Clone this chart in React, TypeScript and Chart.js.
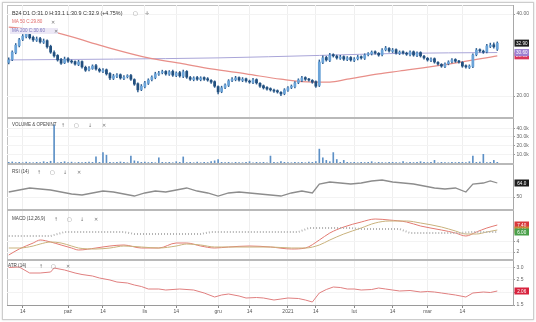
import React, { useEffect, useRef } from "react";
import { Chart, registerables } from "chart.js";

Chart.register(...registerables);

const FONT = "'Liberation Sans', Arial, sans-serif";

// ---- x axis (trading-day index) ----
const TICK_IDX = [4, 17, 27, 39, 48, 60, 69, 80, 88, 99, 110, 120, 130];
const TICK_LABELS = ["14", "paź", "14", "lis", "14", "gru", "14", "2021", "14", "lut", "14", "mar", "14"];

// ---- price candles ----
const OPEN = [
  28.2, 28.9, 30.6, 32.3, 33.8, 34.5, 35.0, 34.3, 33.6, 34.0,
  33.1, 33.5, 32.1, 30.6, 29.9, 28.9, 28.1, 29.1, 28.4, 28.4,
  27.7, 28.4, 27.0, 26.4, 26.7, 27.4, 26.5, 26.0, 26.4, 25.5,
  24.3, 24.8, 25.2, 24.3, 24.7, 25.0, 24.0, 23.0, 21.6, 22.3,
  23.1, 24.0, 24.5, 25.3, 25.7, 26.0, 25.3, 26.0, 25.0, 25.7,
  24.8, 26.0, 24.5, 24.0, 24.5, 24.0, 24.5, 24.2, 23.8, 23.5,
  22.3, 21.1, 22.1, 22.6, 23.8, 24.0, 24.5, 23.8, 24.2, 23.6,
  23.3, 24.0, 23.1, 22.5, 22.1, 21.8, 21.4, 21.3, 20.9, 20.6,
  21.4, 22.1, 22.3, 23.3, 23.8, 24.5, 24.0, 23.8, 23.5, 22.6,
  28.2, 29.4, 28.7, 30.1, 29.7, 29.2, 29.6, 28.9, 29.4, 28.7,
  29.1, 29.6, 29.2, 30.1, 30.3, 30.8, 30.4, 30.1, 31.3, 31.6,
  30.9, 31.3, 30.4, 30.8, 30.4, 30.1, 30.8, 29.9, 30.6, 29.7,
  29.2, 28.7, 29.1, 28.2, 27.7, 27.2, 27.9, 28.4, 28.9, 28.4,
  28.2, 27.4, 27.0, 27.2, 30.1, 31.3, 30.9, 30.8, 32.1, 32.5,
  31.4,
];
const HIGH = [
  29.3, 31.0, 32.8, 34.1, 35.0, 35.6, 35.3, 34.6, 34.4, 34.3,
  33.9, 33.7, 32.4, 31.0, 30.1, 29.2, 29.5, 29.4, 28.8, 28.6,
  28.7, 28.6, 27.3, 27.2, 27.6, 27.7, 26.8, 26.7, 26.6, 25.7,
  25.3, 25.5, 25.4, 25.0, 25.2, 25.3, 24.2, 23.2, 22.8, 23.6,
  24.2, 24.9, 25.8, 26.0, 26.3, 26.2, 26.2, 26.3, 25.9, 26.0,
  26.3, 26.2, 24.8, 24.7, 24.8, 24.7, 24.7, 24.5, 24.0, 23.7,
  22.5, 22.4, 23.0, 24.0, 24.5, 24.8, 24.7, 24.5, 24.4, 23.9,
  24.3, 24.2, 23.3, 22.7, 22.3, 22.0, 21.7, 21.5, 21.1, 21.8,
  22.3, 22.7, 23.5, 24.2, 24.8, 24.7, 24.3, 24.0, 23.7, 28.8,
  29.8, 29.7, 30.4, 30.3, 30.0, 29.9, 29.8, 29.6, 29.6, 29.4,
  29.9, 29.8, 30.3, 30.6, 31.0, 31.0, 30.6, 31.6, 32.1, 31.8,
  31.6, 31.5, 31.0, 31.0, 30.7, 31.0, 31.0, 30.8, 30.8, 29.9,
  29.4, 29.3, 29.3, 28.4, 27.9, 28.1, 28.6, 29.1, 29.1, 28.7,
  28.4, 27.6, 27.6, 30.3, 31.6, 31.5, 31.2, 32.6, 32.9, 33.0,
  33.2,
];
const LOW = [
  27.8, 28.6, 30.3, 32.0, 33.5, 34.2, 33.9, 33.3, 33.3, 32.9,
  32.8, 31.7, 30.4, 29.5, 28.5, 27.7, 27.9, 28.2, 28.0, 27.5,
  27.4, 26.8, 26.0, 26.1, 26.5, 26.3, 25.8, 25.7, 25.1, 24.0,
  24.0, 24.5, 24.1, 24.0, 24.4, 23.8, 22.6, 21.0, 21.3, 22.0,
  22.8, 23.7, 24.2, 25.0, 25.4, 25.1, 25.0, 24.8, 24.7, 24.6,
  24.5, 24.3, 23.8, 23.7, 23.8, 23.7, 23.8, 23.6, 23.1, 22.1,
  20.5, 20.8, 21.8, 22.3, 23.5, 23.7, 23.6, 23.5, 23.4, 23.1,
  23.0, 22.9, 22.1, 21.7, 21.4, 21.2, 20.9, 20.7, 20.1, 20.3,
  21.1, 21.8, 22.0, 23.0, 23.5, 23.8, 23.6, 23.1, 22.1, 22.3,
  27.9, 28.5, 28.4, 29.5, 29.0, 28.9, 28.7, 28.6, 28.5, 28.4,
  28.8, 29.0, 28.9, 29.8, 30.0, 30.2, 29.7, 29.8, 31.0, 30.7,
  30.6, 30.2, 30.1, 30.2, 29.9, 29.8, 29.7, 29.6, 29.5, 29.0,
  28.5, 28.4, 28.0, 27.5, 27.0, 26.9, 27.6, 28.1, 28.2, 28.0,
  27.0, 26.8, 26.7, 26.9, 29.8, 30.7, 30.4, 30.5, 31.8, 31.7,
  31.1,
];
const CLOSE = [
  28.8, 30.7, 32.4, 33.7, 34.6, 35.1, 34.2, 33.7, 33.9, 33.2,
  33.4, 32.0, 30.7, 29.8, 28.8, 28.0, 29.0, 28.5, 28.3, 27.8,
  28.3, 27.1, 26.3, 26.8, 27.3, 26.6, 26.1, 26.3, 25.4, 24.4,
  24.9, 25.1, 24.4, 24.6, 24.9, 24.1, 22.9, 21.5, 22.4, 23.2,
  23.9, 24.6, 25.4, 25.6, 25.9, 25.4, 25.9, 25.1, 25.6, 24.9,
  25.9, 24.6, 24.1, 24.4, 24.1, 24.4, 24.1, 23.9, 23.4, 22.4,
  21.0, 22.0, 22.7, 23.7, 24.1, 24.4, 23.9, 24.1, 23.7, 23.4,
  23.9, 23.2, 22.4, 22.0, 21.7, 21.5, 21.2, 21.0, 20.5, 21.5,
  22.0, 22.4, 23.2, 23.9, 24.4, 24.1, 23.9, 23.4, 22.4, 28.3,
  29.3, 28.8, 30.0, 29.8, 29.3, 29.5, 29.0, 29.3, 28.8, 29.0,
  29.5, 29.3, 30.0, 30.2, 30.7, 30.5, 30.0, 31.2, 31.7, 31.0,
  31.2, 30.5, 30.7, 30.5, 30.2, 30.7, 30.0, 30.5, 29.8, 29.3,
  28.8, 29.0, 28.3, 27.8, 27.3, 27.8, 28.3, 28.8, 28.5, 28.3,
  27.3, 27.1, 27.3, 30.0, 31.2, 31.0, 30.7, 32.2, 32.4, 32.0,
  32.9,
];

// ---- moving averages (sparse points: bar index / value) ----
const MA_FAST_IDX = [0, 13, 26, 40, 49, 58, 68, 78, 87, 92, 97, 106, 112, 126, 140];
const MA_FAST = [36.8, 35.6, 32.4, 29.3, 28.0, 26.6, 25.4, 24.1, 23.4, 23.4, 24.1, 25.4, 26.1, 27.8, 29.8];
const MA_SLOW_IDX = [0, 30, 60, 89, 112, 140];
const MA_SLOW = [28.8, 29.0, 29.3, 29.9, 30.4, 30.6];

// ---- volume (thousands) ----
const VOLUME = [
  0.8, 1.2, 0.5, 0.8, 0.3, 1.0, 0.5, 0.3, 0.8, 0.5,
  1.5, 0.8, 2.0, 44, 0.3, 0.8, 1.5, 0.5, 1.0, 0.3,
  0.8, 0.5, 0.8, 1.2, 0.8, 7, 0.8, 12, 9, 0.8,
  0.5, 0.8, 1.2, 0.8, 0.3, 8, 2.5, 1.5, 0.8, 1.0,
  0.5, 0.8, 0.3, 6, 0.8, 0.5, 0.8, 0.3, 1.5, 0.8,
  7, 0.5, 0.8, 0.3, 1.0, 0.3, 0.8, 0.5, 1.5, 2.5,
  4, 0.8, 0.5, 0.8, 0.3, 0.8, 0.5, 0.3, 0.8, 1.5,
  0.3, 0.8, 0.5, 0.8, 0.3, 8, 0.8, 0.5, 1.5, 0.8,
  0.5, 0.3, 0.8, 0.5, 0.8, 0.3, 1.0, 0.8, 1.5, 16,
  6, 3, 1.5, 12, 4, 0.8, 3, 0.8, 0.5, 0.8,
  0.3, 0.8, 0.5, 0.8, 1.5, 0.3, 0.8, 0.5, 0.3, 0.8,
  0.8, 0.5, 0.3, 1.5, 0.3, 0.8, 0.5, 0.8, 1.5, 0.8,
  0.5, 0.8, 3, 0.3, 0.8, 0.5, 0.3, 0.8, 0.5, 0.8,
  0.8, 0.5, 1.5, 8, 0.8, 1.0, 10, 0.5, 0.8, 3,
  0.8,
];

// ---- RSI (14) ----
const RSI_IDX = [0, 3, 6, 9, 12, 15, 18, 21, 24, 27, 30, 33, 36, 39, 42, 45, 48, 51, 54, 57, 60, 63, 66, 69, 72, 75, 78, 81, 84, 87, 89, 92, 95, 98, 101, 104, 107, 110, 113, 116, 119, 122, 125, 128, 131, 133, 136, 138, 140];
const RSI = [55, 57, 59, 58, 57, 55, 53, 52, 54, 56, 55, 53, 51, 54, 56, 55, 57, 59, 56, 54, 51, 54, 55, 54, 53, 52, 51, 54, 56, 54, 63, 65, 64, 63, 64, 66, 67, 65, 64, 63, 61, 59, 58, 59, 55, 63, 64, 66, 64];

// ---- MACD (12,26,9) ----
const MACD_IDX = [0, 3, 7, 9, 12, 15, 18, 20, 25, 29, 33, 38, 43, 48, 51, 55, 59, 63, 69, 75, 81, 85, 89, 92, 96, 101, 105, 109, 114, 118, 124, 128, 131, 134, 137, 140];
const MACD = [1.4, 2.6, 3.8, 4.4, 4.0, 3.4, 2.8, 2.4, 2.8, 3.2, 3.4, 2.8, 2.8, 3.8, 3.8, 3.2, 2.8, 3.0, 3.2, 3.0, 2.6, 2.8, 4.4, 5.8, 7.0, 8.0, 8.6, 8.4, 8.0, 7.2, 6.4, 5.8, 5.2, 6.0, 6.8, 7.4];
const SIGNAL = [2.8, 2.8, 3.2, 3.6, 4.0, 3.8, 3.2, 2.8, 2.6, 2.8, 3.2, 3.0, 2.8, 3.2, 3.6, 3.4, 3.0, 3.0, 3.0, 3.0, 2.8, 2.8, 3.4, 4.4, 5.6, 6.8, 7.8, 8.2, 8.2, 7.8, 7.0, 6.2, 5.6, 5.6, 6.0, 6.4];
const HIST_IDX = [0, 12, 16, 33, 36, 55, 58, 83, 86, 98, 101, 112, 115, 129, 133, 140];
const HIST = [5.2, 5.2, 6.0, 6.0, 5.6, 5.6, 6.0, 6.0, 6.8, 6.8, 6.6, 6.6, 5.8, 5.8, 6.0, 6.0];

// ---- ATR (14) ----
const ATR_IDX = [0, 3, 6, 9, 12, 13, 16, 19, 21, 24, 26, 29, 31, 34, 36, 38, 40, 43, 45, 49, 53, 56, 59, 61, 63, 66, 68, 71, 73, 76, 78, 80, 83, 85, 87, 89, 91, 93, 95, 97, 99, 101, 104, 106, 108, 110, 112, 115, 118, 120, 122, 124, 126, 128, 131, 133, 136, 138, 140];
const ATR = [3.0, 3.02, 2.78, 2.78, 2.82, 2.98, 2.9, 2.78, 2.72, 2.66, 2.58, 2.5, 2.42, 2.38, 2.3, 2.24, 2.14, 2.14, 2.1, 2.14, 2.1, 1.98, 1.82, 1.9, 1.94, 1.86, 1.78, 1.8, 1.78, 1.7, 1.74, 1.78, 1.76, 1.7, 1.62, 1.98, 2.12, 2.22, 2.2, 2.14, 2.14, 2.1, 2.12, 2.18, 2.14, 2.1, 2.06, 2.08, 2.02, 2.04, 2.02, 1.98, 1.94, 1.9, 1.82, 1.98, 2.02, 2.0, 2.06];

// ---- axis tick values ----
const PRICE_TICKS = [20, 40];
const VOLUME_TICKS = [10, 20, 30, 40];
const RSI_TICKS = [50];
const MACD_TICKS = [2, 4];
const ATR_TICKS = [1.5, 2.0, 2.5, 3.0];

const AXIS_W = 20;
const CANVAS_W = 526;

const pts = (idx: number[], vals: number[]) => idx.map((x, k) => ({ x, y: vals[k] }));
const last = (a: number[]) => a[a.length - 1];

const xScale = (show: boolean) => ({
  type: "linear",
  min: -0.5,
  max: 144.5,
  offset: false,
  bounds: "data",
  afterBuildTicks: (a: any) => {
    a.ticks = TICK_IDX.map((v) => ({ value: v }));
  },
  afterFit: (a: any) => {
    a.height = show ? 13 : 0;
    a.paddingLeft = 0;
    a.paddingRight = 0;
  },
  grid: { color: "#efefef", lineWidth: 1, offset: false, drawTicks: show, tickLength: 3, tickColor: "#8a8a8a" },
  border: { display: show, color: "#9a9a9a" },
  ticks: {
    display: show,
    autoSkip: false,
    maxRotation: 0,
    minRotation: 0,
    padding: 1,
    color: "#555",
    font: { size: 5, family: FONT },
    callback: (_v: any, i: number) => TICK_LABELS[i],
  },
});

const yScale = (min: number, max: number, ticks: number[], fmt: (v: number) => string) => ({
  type: "linear",
  position: "right",
  min,
  max,
  afterBuildTicks: (a: any) => {
    a.ticks = ticks.map((v) => ({ value: v }));
  },
  afterFit: (a: any) => {
    a.width = AXIS_W;
    a.paddingTop = 0;
    a.paddingBottom = 0;
  },
  grid: { color: "#f3f3f3", drawTicks: true, tickLength: 2, tickColor: "#999" },
  border: { display: true, color: "#a8a8a8", width: 1 },
  ticks: {
    padding: 1.5,
    color: "#666",
    font: { size: 5, family: FONT },
    callback: (v: any) => fmt(Number(v)),
  },
});

type Box = { v: number; bg: string; fg: string; text: string };
const boxesPlugin = (boxes: Box[]) => ({
  id: "lastBoxes",
  afterDraw(chart: any) {
    const ctx = chart.ctx;
    const ca = chart.chartArea;
    const ys = chart.scales.y;
    ctx.save();
    boxes.forEach((b) => {
      const y = ys.getPixelForValue(b.v);
      ctx.fillStyle = b.bg;
      ctx.fillRect(ca.right + 1.5, y - 3.5, 14.5, 7);
      ctx.fillStyle = b.fg;
      ctx.font = `4.6px ${FONT}`;
      ctx.textAlign = "center";
      ctx.textBaseline = "middle";
      ctx.fillText(b.text, ca.right + 8.75, y + 0.3);
    });
    ctx.restore();
  },
});

const baseOptions = (y: any, showX: boolean) => ({
  animation: false,
  responsive: false,
  maintainAspectRatio: false,
  devicePixelRatio: 1,
  events: [],
  layout: { padding: 0 },
  plugins: { legend: { display: false }, tooltip: { enabled: false }, title: { display: false } },
  scales: { x: xScale(showX), y },
});

const IDX = CLOSE.map((_, i) => i);

export default function App() {
  const priceRef = useRef<HTMLCanvasElement>(null);
  const volRef = useRef<HTMLCanvasElement>(null);
  const rsiRef = useRef<HTMLCanvasElement>(null);
  const macdRef = useRef<HTMLCanvasElement>(null);
  const atrRef = useRef<HTMLCanvasElement>(null);

  useEffect(() => {
    const charts: Chart[] = [];

    charts.push(
      new Chart(priceRef.current as HTMLCanvasElement, {
        type: "bar",
        data: {
          datasets: [
            {
              type: "bar",
              data: IDX.map((i) => ({ x: i, y: [OPEN[i], CLOSE[i]] })),
              backgroundColor: IDX.map((i) => (CLOSE[i] >= OPEN[i] ? "#6aa3d8" : "#22507f")),
              barThickness: 2.1,
              minBarLength: 1,
              grouped: false,
              order: 1,
            },
            {
              type: "bar",
              data: IDX.map((i) => ({ x: i, y: [LOW[i], HIGH[i]] })),
              backgroundColor: "#2d5d90",
              barThickness: 0.8,
              grouped: false,
              order: 2,
            },
            {
              type: "line",
              data: pts(MA_FAST_IDX, MA_FAST),
              borderColor: "#e88f89",
              borderWidth: 1.2,
              pointRadius: 0,
              cubicInterpolationMode: "monotone",
              order: 3,
            },
            {
              type: "line",
              data: pts(MA_SLOW_IDX, MA_SLOW),
              borderColor: "#a9a5d8",
              borderWidth: 1,
              pointRadius: 0,
              cubicInterpolationMode: "monotone",
              order: 4,
            },
          ],
        } as any,
        options: baseOptions(yScale(14.88, 42.2, PRICE_TICKS, (v) => v.toFixed(2)), false) as any,
        plugins: [
          boxesPlugin([
            { v: last(MA_FAST), bg: "#d9365a", fg: "#fff", text: last(MA_FAST).toFixed(2) },
            { v: last(MA_SLOW), bg: "#9d7fd0", fg: "#fff", text: last(MA_SLOW).toFixed(2) },
            { v: last(CLOSE), bg: "#1d1d1d", fg: "#fff", text: last(CLOSE).toFixed(2) },
          ]),
        ],
      })
    );

    charts.push(
      new Chart(volRef.current as HTMLCanvasElement, {
        type: "bar",
        data: {
          datasets: [
            {
              type: "bar",
              data: IDX.map((i) => ({ x: i, y: VOLUME[i] })),
              backgroundColor: "#5d90c6",
              barThickness: 1,
              grouped: false,
            },
          ],
        } as any,
        options: baseOptions(yScale(0, 50.7, VOLUME_TICKS, (v) => v.toFixed(1) + "k"), false) as any,
      })
    );

    charts.push(
      new Chart(rsiRef.current as HTMLCanvasElement, {
        type: "line",
        data: {
          datasets: [
            {
              data: pts(RSI_IDX, RSI),
              borderColor: "#8d8d8d",
              borderWidth: 1.3,
              pointRadius: 0,
              tension: 0,
            },
          ],
        } as any,
        options: baseOptions(yScale(38, 82, RSI_TICKS, (v) => String(v)), false) as any,
        plugins: [boxesPlugin([{ v: last(RSI), bg: "#1d1d1d", fg: "#fff", text: last(RSI).toFixed(1) }])],
      })
    );

    charts.push(
      new Chart(macdRef.current as HTMLCanvasElement, {
        type: "line",
        data: {
          datasets: [
            {
              data: pts(HIST_IDX, HIST),
              borderColor: "#b3b3b3",
              borderWidth: 2,
              borderDash: [1, 2],
              pointRadius: 0,
              tension: 0,
            },
            {
              data: pts(MACD_IDX, SIGNAL),
              borderColor: "#c9b27c",
              borderWidth: 1,
              pointRadius: 0,
              cubicInterpolationMode: "monotone",
            },
            {
              data: pts(MACD_IDX, MACD),
              borderColor: "#e37a72",
              borderWidth: 1,
              pointRadius: 0,
              cubicInterpolationMode: "monotone",
            },
          ],
        } as any,
        options: baseOptions(yScale(0.6, 10.2, MACD_TICKS, (v) => String(v)), false) as any,
        plugins: [
          boxesPlugin([
            { v: last(MACD), bg: "#d8383c", fg: "#fff", text: last(MACD).toFixed(2) },
            { v: last(SIGNAL), bg: "#c98a3a", fg: "#fff", text: last(SIGNAL).toFixed(2) },
            { v: last(HIST), bg: "#4aa04a", fg: "#fff", text: last(HIST).toFixed(2) },
          ]),
        ],
      })
    );

    charts.push(
      new Chart(atrRef.current as HTMLCanvasElement, {
        type: "line",
        data: {
          datasets: [
            {
              data: pts(ATR_IDX, ATR),
              borderColor: "#e07f7f",
              borderWidth: 1,
              pointRadius: 0,
              tension: 0,
            },
          ],
        } as any,
        options: baseOptions(yScale(1.5, 3.26, ATR_TICKS, (v) => v.toFixed(1)), true) as any,
        plugins: [boxesPlugin([{ v: last(ATR), bg: "#d8243f", fg: "#fff", text: last(ATR).toFixed(2) }])],
      })
    );

    return () => charts.forEach((c) => c.destroy());
  }, []);

  const canvasStyle = (top: number, h: number): React.CSSProperties => ({
    position: "absolute",
    left: 7,
    top,
    width: CANVAS_W,
    height: h,
  });

  const txt = (x: number, y: number, s: string, color = "#444", size = 5, extra: React.CSSProperties = {}) => (
    <div
      key={`${x}-${y}-${s}`}
      style={{
        position: "absolute",
        left: x,
        top: y - 3,
        fontSize: size,
        lineHeight: "6px",
        color,
        whiteSpace: "nowrap",
        fontFamily: FONT,
        ...extra,
      }}
    >
      {s}
    </div>
  );

  const icons = (y: number, xs: number[], glyphs: string[]) =>
    xs.map((x, k) => txt(x, y, glyphs[k], "#777", 5, { fontFamily: "'DejaVu Sans', sans-serif" }));

  const sep = (top: number) => (
    <div key={"sep" + top} style={{ position: "absolute", left: 7, top, width: 507, height: 2, background: "#b9b9b9" }} />
  );

  return (
    <div
      style={{
        position: "absolute",
        left: 0,
        top: 0,
        width: 536,
        height: 322,
        background: "#ffffff",
        overflow: "hidden",
        fontFamily: FONT,
      }}
    >
      <div
        style={{
          position: "absolute",
          left: 2,
          top: 2,
          width: 530,
          height: 316,
          border: "1px solid #cdcdcd",
          boxShadow: "0 0 2px rgba(0,0,0,0.18)",
        }}
      />
      <div style={{ position: "absolute", left: 7, top: 5, width: 507, height: 1, background: "#c2c2c2" }} />
      <div style={{ position: "absolute", left: 7, top: 5, width: 1, height: 300, background: "#c2c2c2" }} />

      <canvas ref={priceRef} width={CANVAS_W} height={112} style={canvasStyle(5, 112)} />
      <canvas ref={volRef} width={CANVAS_W} height={44} style={canvasStyle(119, 44)} />
      <canvas ref={rsiRef} width={CANVAS_W} height={44} style={canvasStyle(165, 44)} />
      <canvas ref={macdRef} width={CANVAS_W} height={48} style={canvasStyle(211, 48)} />
      <canvas ref={atrRef} width={CANVAS_W} height={57} style={canvasStyle(261, 57)} />

      {sep(117)}
      {sep(163)}
      {sep(209)}
      {sep(259)}

      {txt(12, 13, "B24 D1 O:31.0 H:33.1 L:30.9 C:32.9 (+4.75%)", "#333", 5.4)}
      {icons(13, [133, 145], ["▢", "✛"])}
      {txt(12, 22, "MA 50 C:29.80", "#e06a6a", 4.6)}
      {icons(22, [51], ["✕"])}
      <div style={{ position: "absolute", left: 10, top: 28, width: 48, height: 6, background: "#ece8f6" }} />
      {txt(12, 31, "MA 200 C:30.60", "#7d77be", 4.6)}
      {icons(31, [54], ["✕"])}

      {txt(12, 125, "VOLUME & OPENINT", "#444", 4.5)}
      {icons(125, [61, 74, 88, 102], ["↑", "▢", "↓", "✕"])}

      {txt(12, 172, "RSI (14)", "#444", 4.6)}
      {icons(172, [37, 50, 63, 77], ["↑", "▢", "↓", "✕"])}

      {txt(12, 219, "MACD (12,26,9)", "#444", 4.6)}
      {icons(219, [54, 67, 80, 94], ["↑", "▢", "↓", "✕"])}

      {txt(8, 266, "ATR (14)", "#444", 4.6)}
      {icons(266, [39, 51, 66], ["↑", "▢", "✕"])}
    </div>
  );
}
